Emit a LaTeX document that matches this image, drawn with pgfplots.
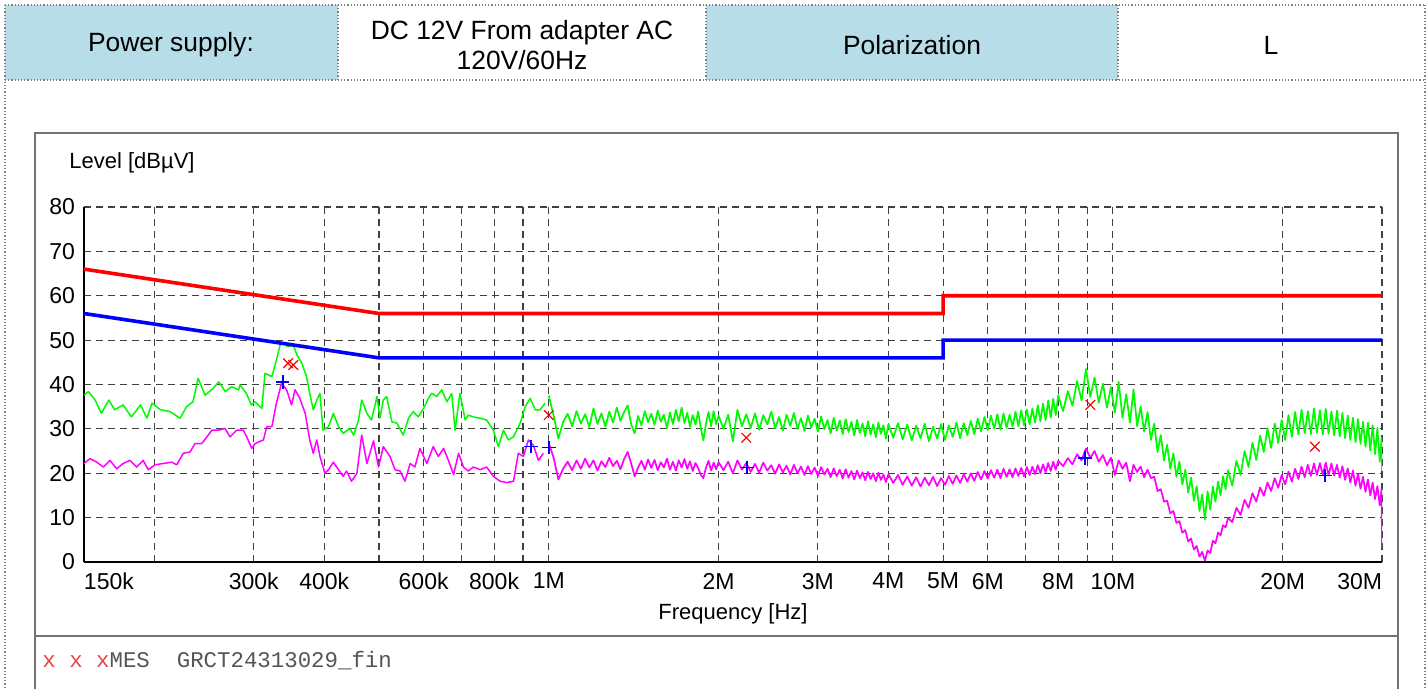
\documentclass[border=0pt]{standalone}
\usepackage{fontspec}
\setmainfont{Liberation Sans}
\setmonofont{Liberation Mono}
\usepackage{pgfplots}
\pgfplotsset{compat=1.18}
\usepackage{pgfplotstable}
\definecolor{hdrblue}{RGB}{183,222,232}
\definecolor{pkgreen}{RGB}{0,250,0}
\definecolor{avmag}{RGB}{255,0,255}
\definecolor{limred}{RGB}{255,0,0}
\definecolor{limblue}{RGB}{0,0,255}
\definecolor{xred}{RGB}{230,70,70}
\definecolor{txtgray}{RGB}{85,85,85}

\pgfplotstableread{
f pk
0.150 37.6
0.1527 38.4
0.157 36.5
0.161 33.5
0.166 36.5
0.170 34.3
0.176 35.4
0.182 32.7
0.189 35.4
0.194 32.4
0.198 35.8
0.205 34.3
0.213 33.9
0.222 32.4
0.228 35.0
0.234 36.1
0.239 41.4
0.246 37.6
0.254 39.1
0.260 40.6
0.267 38.4
0.274 39.5
0.282 38.8
0.2835 39.9
0.291 38.0
0.297 35.4
0.3015 36.1
0.310 34.6
0.314 42.5
0.323 41.8
0.329 45.5
0.334 48.9
0.338 49.4
0.345 48.5
0.3525 48.9
0.358 46.6
0.365 44.8
0.372 41.8
0.377 38.0
0.3825 34.3
0.388 36.5
0.393 38.0
0.398 29.7
0.407 30.5
0.415 33.5
0.424 30.5
0.432 29.0
0.444 30.1
0.451 28.6
0.460 32.0
0.466 36.5
0.476 33.5
0.485 32.0
0.496 37.3
0.502 32.4
0.509 36.5
0.516 37.3
0.527 31.6
0.538 31.3
0.552 28.6
0.564 32.4
0.575 33.9
0.587 32.7
0.600 34.6
0.612 36.9
0.620 38.0
0.633 37.3
0.646 38.8
0.660 36.1
0.673 38.0
0.682 29.7
0.696 38.0
0.711 32.0
0.720 33.1
0.735 32.7
0.756 32.4
0.776 32.0
0.798 29.7
0.814 26.0
0.831 29.7
0.848 27.5
0.866 28.2
0.890 31.3
0.908 35.0
0.927 36.9
0.946 34.3
0.965 34.3
0.985 35.8
}\pklow

\pgfplotstableread{
f av
0.150 22.2
0.1537 23.3
0.158 22.5
0.1623 21.4
0.1668 22.9
0.1714 21.0
0.176 22.2
0.181 22.9
0.186 21.4
0.191 22.9
0.195 20.8
0.2004 21.9
0.2073 22.2
0.2147 22.5
0.219 21.9
0.225 24.5
0.2313 24.8
0.236 26.7
0.2426 26.7
0.2477 28.2
0.2528 29.7
0.2595 29.7
0.2667 30.1
0.2722 28.2
0.2797 29.7
0.2874 29.7
0.2915 28.2
0.2975 25.6
0.3015 26.7
0.312 27.5
0.3163 30.5
0.323 30.5
0.329 35.8
0.336 40.3
0.343 38.8
0.350 35.4
0.355 38.8
0.362 36.9
0.370 33.5
0.377 27.5
0.3825 24.5
0.388 27.5
0.393 23.8
0.401 20.0
0.407 20.8
0.415 22.5
0.424 20.8
0.432 19.3
0.438 20.5
0.447 18.2
0.457 20.0
0.466 28.6
0.476 22.2
0.489 27.3
0.499 21.4
0.509 26.0
0.523 23.8
0.534 20.8
0.545 20.5
0.556 18.2
0.568 22.2
0.579 21.4
0.591 25.6
0.608 22.2
0.624 26.0
0.637 23.8
0.651 25.6
0.664 22.9
0.678 19.7
0.692 24.5
0.706 21.4
0.720 20.5
0.735 21.4
0.756 20.8
0.776 21.4
0.798 19.3
0.820 18.2
0.842 17.9
0.866 18.2
0.883 24.5
0.9015 23.8
0.920 27.5
0.939 26.3
0.959 22.9
0.978 24.5
}\avlow

\pgfplotstableread{
f pk av
1.00 37.5 26.8
1.02 33.0 23.5
1.04 27.8 18.6
1.06 31.5 21.0
1.08 33.4 22.6
1.10 30.6 20.7
1.12 34.0 22.9
1.14 31.2 21.0
1.16 33.3 23.3
1.18 30.4 21.3
1.20 34.6 22.9
1.22 31.1 20.6
1.24 33.5 22.7
1.26 30.5 21.4
1.28 33.9 23.5
1.30 31.4 21.6
1.32 34.8 22.8
1.34 31.8 20.9
1.36 33.8 23.2
1.38 35.3 24.8
1.40 31.0 22.2
1.42 29.0 19.3
1.44 32.9 21.3
1.46 30.8 22.8
1.48 34.0 20.8
1.50 31.5 23.1
1.52 33.4 21.2
1.54 30.9 23.0
1.56 34.1 20.7
1.58 31.6 22.5
1.60 33.2 21.3
1.62 30.2 23.3
1.64 33.7 20.8
1.66 31.1 22.6
1.68 34.3 20.6
1.70 31.7 22.9
1.72 34.8 21.3
1.74 31.3 23.2
1.76 33.6 21.0
1.78 30.5 22.7
1.80 33.1 20.5
1.82 31.0 22.3
1.84 33.9 21.2
1.86 30.2 19.6
1.88 27.4 18.9
1.90 31.2 21.3
1.92 33.8 22.8
1.94 30.6 20.6
1.96 34.0 22.4
1.98 31.1 20.9
2.00 33.0 22.5
2.04 30.0 20.7
2.08 33.2 22.6
2.12 27.2 20.0
2.16 34.3 22.9
2.20 30.6 20.8
2.24 33.3 22.3
2.28 30.2 20.3
2.32 33.5 22.1
2.36 29.8 20.1
2.40 33.1 22.4
2.44 31.0 20.6
2.48 33.9 21.8
2.52 30.1 19.9
2.56 32.7 22.0
2.60 29.6 20.2
2.64 33.2 21.7
2.68 30.7 19.7
2.72 33.6 21.9
2.76 30.0 20.0
2.80 32.4 21.5
2.84 29.5 19.6
2.88 33.0 21.6
2.92 30.3 19.8
2.96 32.3 21.3
3.00 29.4 19.4
3.04 32.8 21.4
3.08 29.9 19.7
3.12 32.0 21.0
3.16 29.0 19.1
3.20 32.5 21.1
3.24 29.6 19.3
3.28 31.9 20.8
3.32 28.8 18.8
3.36 32.2 20.9
3.40 29.3 19.0
3.44 31.6 20.5
3.48 28.5 18.6
3.52 32.0 20.6
3.56 29.1 18.9
3.60 31.2 20.2
3.64 28.3 18.4
3.68 31.7 20.3
3.72 28.7 18.7
3.76 31.0 20.0
3.80 28.1 18.2
3.84 31.4 20.1
3.88 28.9 18.5
3.92 30.8 19.7
3.96 27.8 18.0
4.00 31.1 19.8
4.08 28.0 17.8
4.16 31.3 19.6
4.24 27.6 17.4
4.32 31.0 19.3
4.40 27.4 17.2
4.48 30.7 19.1
4.56 27.9 17.0
4.64 31.2 19.0
4.72 27.2 17.3
4.80 30.5 19.2
4.88 27.8 17.1
4.96 31.1 18.9
5.04 27.5 17.4
5.12 30.8 19.4
5.20 28.2 17.6
5.28 31.4 19.5
5.36 27.9 17.8
5.44 31.3 19.8
5.52 28.6 18.1
5.60 31.8 20.0
5.68 28.8 18.3
5.76 32.3 20.3
5.84 29.4 18.6
5.92 32.7 20.5
6.00 29.7 18.8
6.08 33.0 20.7
6.16 30.0 19.0
6.24 33.3 20.8
6.32 29.8 18.9
6.40 33.5 21.0
6.48 30.2 19.2
6.56 33.2 20.9
6.64 30.5 19.1
6.72 33.9 21.1
6.80 30.6 19.4
6.88 34.2 21.2
6.96 30.8 19.3
7.04 34.4 21.4
7.12 31.0 19.6
7.20 34.6 21.5
7.28 31.4 19.8
7.36 35.3 21.8
7.44 31.7 20.0
7.52 35.7 22.0
7.60 32.0 20.2
7.68 36.4 22.3
7.76 32.5 20.5
7.84 36.8 22.6
7.92 33.1 20.8
8.00 37.6 22.8
8.16 34.0 21.6
8.32 38.5 23.4
8.48 35.2 22.0
8.64 40.8 24.3
8.80 36.4 22.9
8.96 43.5 25.6
9.12 37.2 23.5
9.28 41.6 25.0
9.44 35.9 22.6
9.60 40.2 24.1
9.76 34.8 21.8
9.92 39.4 23.5
10.08 33.6 19.6
10.24 40.6 22.9
10.40 32.5 21.0
10.56 37.8 22.4
10.72 31.4 18.2
10.88 38.9 21.9
11.04 30.6 20.3
11.20 35.0 21.5
11.36 29.4 19.1
11.52 33.8 20.8
11.68 27.5 18.9
11.84 31.2 19.2
12.00 24.8 16.0
12.16 28.6 16.4
12.32 22.9 13.6
12.48 26.4 13.8
12.64 21.0 11.0
12.80 24.5 11.5
12.96 19.2 8.8
13.12 22.6 9.2
13.28 17.5 6.6
13.44 20.8 7.2
13.60 15.6 4.6
13.76 19.0 5.3
13.92 13.8 2.8
14.08 17.1 3.6
14.24 11.5 1.2
14.40 15.2 2.3
14.56 9.6 0.3
14.72 15.9 2.6
14.88 11.8 2.0
15.04 17.0 4.8
15.20 13.6 4.2
15.36 18.1 6.6
15.52 15.0 6.0
15.68 19.3 8.3
15.84 16.4 7.8
16.00 20.6 9.9
16.28 17.2 9.0
16.56 22.8 12.2
16.84 19.6 10.6
17.12 25.0 14.0
17.40 21.4 12.2
17.68 26.9 15.5
17.96 23.0 13.6
18.24 28.5 16.8
18.52 24.8 14.9
18.80 30.1 17.9
19.08 25.7 16.0
19.36 31.2 18.9
19.64 26.8 16.7
19.92 32.0 19.6
20.20 27.5 17.5
20.48 33.1 20.4
20.76 28.2 18.1
21.04 33.8 21.0
21.32 28.7 18.7
21.60 34.3 21.5
21.88 29.0 19.1
22.16 34.0 21.9
22.44 28.8 19.4
22.72 34.6 22.2
23.00 29.1 19.6
23.28 34.2 22.3
23.56 28.7 19.7
23.84 34.5 22.4
24.12 28.9 19.6
24.40 33.9 22.2
24.68 28.5 19.5
24.96 34.1 21.9
25.24 28.3 19.0
25.52 33.6 21.6
25.80 27.9 18.5
26.08 33.0 21.1
26.36 27.5 17.9
26.64 32.5 20.6
26.92 27.0 17.2
27.20 32.2 19.9
27.48 26.6 16.5
27.76 31.6 19.2
28.04 26.0 15.8
28.32 31.4 18.6
28.60 25.1 15.0
28.88 30.8 17.9
29.16 24.3 14.2
29.44 30.2 17.1
29.72 22.6 12.8
29.95 28.0 16.5
30.00 20.5 3.2
}\high

\begin{document}
\begin{tikzpicture}[x=0.5pt,y=0.5pt]
\path[use as bounding box] (0,0) rectangle (1428,689);
% header row
\fill[hdrblue] (5,609) rectangle (338,684);
\fill[hdrblue] (706,609) rectangle (1118,684);
\draw[gray, densely dotted, line width=0.6pt]
  (5,684) -- (1425,684)
  (5,609) -- (1425,609)
  (5,684) -- (5,0)
  (338,684) -- (338,609)
  (706,684) -- (706,609)
  (1118,684) -- (1118,609)
  (1425,684) -- (1425,0);
\begin{scope}[every node/.style={font=\fontsize{13.2}{15}\selectfont, inner sep=0pt}]
\node at (171,644) {Power supply:};
\node[align=center] at (522,644) {DC 12V From adapter AC\\120V/60Hz};
\node at (912,644) {Polarization};
\node at (1271,644) {L};
\end{scope}
% chart frame
\draw[black!55, line width=0.8pt] (35,0) -- (35,556) -- (1398,556) -- (1398,0);
\draw[black!55, line width=0.8pt] (35,53) -- (1398,53);

\begin{axis}[
  at={(42pt,63.5pt)}, anchor=south west,
  scale only axis, width=649pt, height=177.5pt,
  xmode=log, xmin=0.15, xmax=30, ymin=0, ymax=80,
  axis lines*=left,
  axis line style={-, line width=1.1pt, black},
  ytick={0,10,...,80},
  xtick={0.15,0.3,0.4,0.6,0.8,1,2,3,4,5,6,8,10,20,30},
  xticklabels={\rlap{150k},300k,400k,600k,800k,1M,2M,3M,4M,5M,6M,8M,10M,20M,\llap{30M}},
  minor xtick={0.2,0.5,0.7,0.9,7,9},
  minor ytick={},
  grid=both,
  major grid style={black!75, dash pattern=on 3.6pt off 2.4pt, line width=0.55pt},
  minor grid style={black!75, dash pattern=on 3.6pt off 2.4pt, line width=0.55pt},
  major tick length=0pt, minor tick length=0pt,
  ticklabel style={font=\fontsize{11.5}{13}\selectfont},
  /pgf/number format/assume math mode=true,
  yticklabel style={xshift=-1pt},
  xticklabel style={yshift=-2pt},
  clip=true,
]
\addplot[avmag, line width=0.75pt, line join=round] table[x=f,y=av] {\avlow};
\addplot[avmag, line width=0.85pt, line join=round] table[x=f,y=av] {\high};
\addplot[pkgreen, line width=0.75pt, line join=round] table[x=f,y=pk] {\pklow};
\addplot[pkgreen, line width=0.85pt, line join=round] table[x=f,y=pk] {\high};
\addplot[limred, line width=1.8pt] coordinates {(0.15,66) (0.5,56) (5,56) (5,60) (30,60)};
\addplot[limblue, line width=1.8pt] coordinates {(0.15,56) (0.5,46) (5,46) (5,50) (30,50)};
\addplot[only marks, mark=x, mark size=3.4pt, red, mark options={line width=0.6pt}]
  coordinates {(0.345,44.8) (0.3525,44.4) (1.0,33.1) (2.24,28.0) (9.12,35.4) (22.8,26.0)};
\addplot[only marks, mark=+, mark size=3.4pt, blue, mark options={line width=0.85pt}]
  coordinates {(0.3375,40.6) (0.929,26.0) (1.0,25.8) (2.245,21.3) (8.93,23.4) (23.8,19.5)};
\end{axis}

\node[anchor=west, inner sep=0pt, font=\fontsize{11}{13}\selectfont] at (69,526) {Level [dBµV]};
\node[inner sep=0pt, font=\fontsize{11}{13}\selectfont] at (733,75) {Frequency [Hz]};
\node[anchor=base west, inner sep=0pt, font=\ttfamily\fontsize{11.2}{13}\selectfont, text=txtgray] at (42,21)
  {\textcolor{xred}{x x x}MES\ \ GRCT24313029\_fin};
\end{tikzpicture}
\end{document}
